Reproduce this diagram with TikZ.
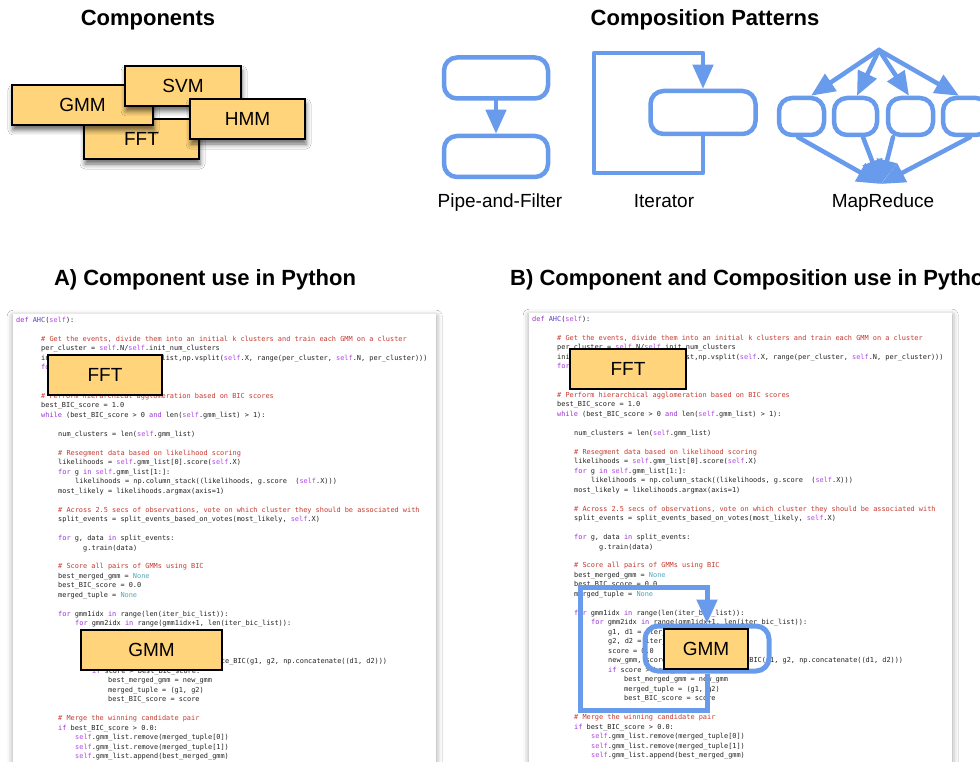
\documentclass[tikz,border=0pt]{standalone}
\usepackage{fontspec}
\setmainfont{Liberation Sans}
\newfontfamily\codefont{DejaVu Sans Mono}
\usetikzlibrary{arrows.meta,calc,shadows.blur}

\definecolor{compfill}{RGB}{255,212,122}
\definecolor{patblue}{RGB}{104,155,236}
\definecolor{kwcol}{RGB}{156,48,214}
\definecolor{selfcol}{RGB}{178,72,232}
\definecolor{defcol}{RGB}{96,60,210}
\definecolor{cmcol}{RGB}{198,58,48}
\definecolor{nonecol}{RGB}{80,168,186}
\definecolor{txtcol}{RGB}{35,35,35}

% syntax colouring helpers
\newcommand\kw[1]{\textcolor{kwcol}{#1}}
\newcommand\sv{\textcolor{selfcol}{self}}
\newcommand\cm[1]{\textcolor{cmcol}{#1}}
\newcommand\nn{\textcolor{nonecol}{None}}

% one line of source: x position, line number, text
\newcount\linecount
\newcommand\cl[3]{%
  \global\advance\linecount by 1
  \node[codeline] (cl\the\linecount) at (#1,{320+9.48*#2+2.5}) {#3};}

\newcommand\codebody{%
  \cl{16}{0}{\kw{def} \textcolor{defcol}{AHC}(\sv):}
  \cl{41}{2}{\cm{\# Get the events, divide them into an initial k clusters and train each GMM on a cluster}}
  \cl{41}{3}{per\_cluster = \sv.N/\sv.init\_num\_clusters}
  \cl{41}{4}{init\_training = zip(\sv.gmm\_list,np.vsplit(\sv.X, range(per\_cluster, \sv.N, per\_cluster)))}
  \cl{41}{5}{\kw{for} g, x \kw{in} init\_training:}
  \cl{66}{6}{g.train(x)}
  \cl{41}{8}{\cm{\# Perform hierarchical agglomeration based on BIC scores}}
  \cl{41}{9}{best\_BIC\_score = 1.0}
  \cl{41}{10}{\kw{while} (best\_BIC\_score > 0 \kw{and} len(\sv.gmm\_list) > 1):}
  \cl{58}{12}{num\_clusters = len(\sv.gmm\_list)}
  \cl{58}{14}{\cm{\# Resegment data based on likelihood scoring}}
  \cl{58}{15}{likelihoods = \sv.gmm\_list[0].score(\sv.X)}
  \cl{58}{16}{\kw{for} g \kw{in} \sv.gmm\_list[1:]:}
  \cl{75}{17}{likelihoods = np.column\_stack((likelihoods, g.score\ \ (\sv.X)))}
  \cl{58}{18}{most\_likely = likelihoods.argmax(axis=1)}
  \cl{58}{20}{\cm{\# Across 2.5 secs of observations, vote on which cluster they should be associated with}}
  \cl{58}{21}{split\_events = split\_events\_based\_on\_votes(most\_likely, \sv.X)}
  \cl{58}{23}{\kw{for} g, data \kw{in} split\_events:}
  \cl{83}{24}{g.train(data)}
  \cl{58}{26}{\cm{\# Score all pairs of GMMs using BIC}}
  \cl{58}{27}{best\_merged\_gmm = \nn}
  \cl{58}{28}{best\_BIC\_score = 0.0}
  \cl{58}{29}{merged\_tuple = \nn}
  \cl{58}{31}{\kw{for} gmm1idx \kw{in} range(len(iter\_bic\_list)):}
  \cl{75}{32}{\kw{for} gmm2idx \kw{in} range(gmm1idx+1, len(iter\_bic\_list)):}
  \cl{92}{33}{g1, d1 = iter\_bic\_list[gmm1idx]}
  \cl{92}{34}{g2, d2 = iter\_bic\_list[gmm2idx]}
  \cl{92}{35}{score = 0.0}
  \cl{92}{36}{new\_gmm, score = compute\_distance\_BIC(g1, g2, np.concatenate((d1, d2)))}
  \cl{92}{37}{\kw{if} score > best\_BIC\_score:}
  \cl{108}{38}{best\_merged\_gmm = new\_gmm}
  \cl{108}{39}{merged\_tuple = (g1, g2)}
  \cl{108}{40}{best\_BIC\_score = score}
  \cl{58}{42}{\cm{\# Merge the winning candidate pair}}
  \cl{58}{43}{\kw{if} best\_BIC\_score > 0.0:}
  \cl{75}{44}{\sv.gmm\_list.remove(merged\_tuple[0])}
  \cl{75}{45}{\sv.gmm\_list.remove(merged\_tuple[1])}
  \cl{75}{46}{\sv.gmm\_list.append(best\_merged\_gmm)}
}

\begin{document}
\begin{tikzpicture}[x=1pt,y=-1pt,
  title/.style={inner sep=0pt, font=\bfseries\fontsize{22}{26}\selectfont},
  plabel/.style={inner sep=0pt, anchor=base, font=\fontsize{19}{22}\selectfont},
  comp/.style={draw=black, line width=1.3pt, fill=compfill, inner sep=0pt,
    minimum height=40pt, font=\fontsize{19}{22}\selectfont},
  compshadow/.style={blur shadow={shadow xshift=1pt, shadow yshift=-5pt,
    shadow blur radius=5pt, shadow opacity=60}},
  codeline/.style={anchor=base west, inner sep=0pt, text=txtcol,
    font=\codefont\fontsize{6.9}{8}\selectfont},
  panel/.style={fill=white, inner sep=0pt, anchor=north west,
    blur shadow={shadow xshift=0pt, shadow yshift=-2pt, shadow blur radius=6pt}},
  pbox/.style={draw=patblue, line width=4.5pt, rounded corners=13pt, inner sep=0pt},
  pline/.style={draw=patblue, line width=4.5pt, line cap=round, line join=round},
  parrow/.style={pline, -{Triangle[length=24pt,width=20pt]}},
]
\useasboundingbox (0,0) rectangle (980,762);
\fill[white] (0,0) rectangle (980,762);

% ---------- titles ----------
\node[title] (tcomp) at (148,20) {Components};
\node[title] (tpat) at (705,20) {Composition Patterns};
\node[title] (tA) at (205,280) {A) Component use in Python};
\node[title, anchor=west] (tB) at (510,280) {B) Component and Composition use in Python};

% ---------- component boxes ----------
\node[comp, compshadow, minimum width=115pt] (cFFT) at (141.5,139) {FFT};
\node[comp, compshadow, minimum width=141pt] (cGMM) at (82.5,105) {GMM};
\node[comp, compshadow, minimum width=116pt] (cSVM) at (183,86) {SVM};
\node[comp, compshadow, minimum width=115pt] (cHMM) at (247.5,119) {HMM};

% ---------- pipe-and-filter ----------
\node[pbox, minimum width=104pt, minimum height=41pt] (pf1) at (496,78) {};
\node[pbox, minimum width=104pt, minimum height=41pt] (pf2) at (496,156.5) {};
\draw[parrow] (pf1.south) -- (pf2.north);
\node[plabel] (lpf) at (500,208) {Pipe-and-Filter};

% ---------- iterator ----------
\node[pbox, minimum width=105pt, minimum height=43pt] (itbox) at (703,112.5) {};
\coordinate (itTL) at (594,53);
\coordinate (itTR) at (703,53);
\coordinate (itBL) at (594,173);
\coordinate (itBR) at (703,173);
\draw[parrow] (itbox.south) -- (itBR) -- (itBL) -- (itTL) -- (itTR) -- (itbox.north);
\node[plabel] (lit) at (664,208) {Iterator};

% ---------- map-reduce ----------
\coordinate (mrTop) at (879,50);
\coordinate (mrBot) at (881,184);
\node[pbox, minimum width=45pt, minimum height=37pt] (mr1) at (801.5,116.5) {};
\node[pbox, minimum width=43pt, minimum height=37pt] (mr2) at (855.5,116.5) {};
\node[pbox, minimum width=45pt, minimum height=37pt] (mr3) at (910.5,116.5) {};
\node[pbox, minimum width=46pt, minimum height=37pt] (mr4) at (966,116.5) {};
\draw[parrow] (mrTop) -- ($(mr1.north)+(9.5,0)$);
\draw[parrow] (mrTop) -- ($(mr2.north)+(1.5,0)$);
\draw[parrow] (mrTop) -- ($(mr3.north)+(-1.5,0)$);
\draw[parrow] (mrTop) -- ($(mr4.north)+(-7,0)$);
\draw[parrow] ($(mr1.south)+(-3.5,0)$) -- (mrBot);
\draw[parrow] ($(mr2.south)+(7.5,0)$) -- (mrBot);
\draw[parrow] ($(mr3.south)+(-17.5,0)$) -- (mrBot);
\draw[parrow] ($(mr4.south)+(4,0)$) -- (mrBot);
\node[plabel] (lmr) at (883,208) {MapReduce};

% ---------- code panel A ----------
\node[panel, minimum width=423pt, minimum height=470pt] (panA) at (13,314) {};
\codebody
\node[comp, minimum width=114pt] (aFFT) at (105,375) {FFT};
\node[comp, minimum width=141pt] (aGMM) at (151.5,650) {GMM};

% ---------- code panel B ----------
\node[panel, minimum width=423pt, minimum height=470pt] (panB) at (529,313) {};
\begin{scope}[xshift=516pt, yshift=1pt]
  \codebody
\end{scope}
\node[comp, minimum width=116pt] (bFFT) at (628,369) {FFT};
\node[pbox, line width=5pt, minimum width=124pt, minimum height=45pt] (loopbox) at (707,648.5) {};
\coordinate (lpTL) at (580,587);
\coordinate (lpTR) at (707,587);
\coordinate (lpBL) at (580,710);
\coordinate (lpBR) at (707,710);
\draw[parrow, line width=5pt, line cap=butt, line join=miter]
  (loopbox.south) -- (lpBR) -- (lpBL) -- (lpTL) -- (lpTR) -- (loopbox.north);
\node[comp, minimum width=84pt] (bGMM) at (706,649) {GMM};
\end{tikzpicture}
\end{document}
